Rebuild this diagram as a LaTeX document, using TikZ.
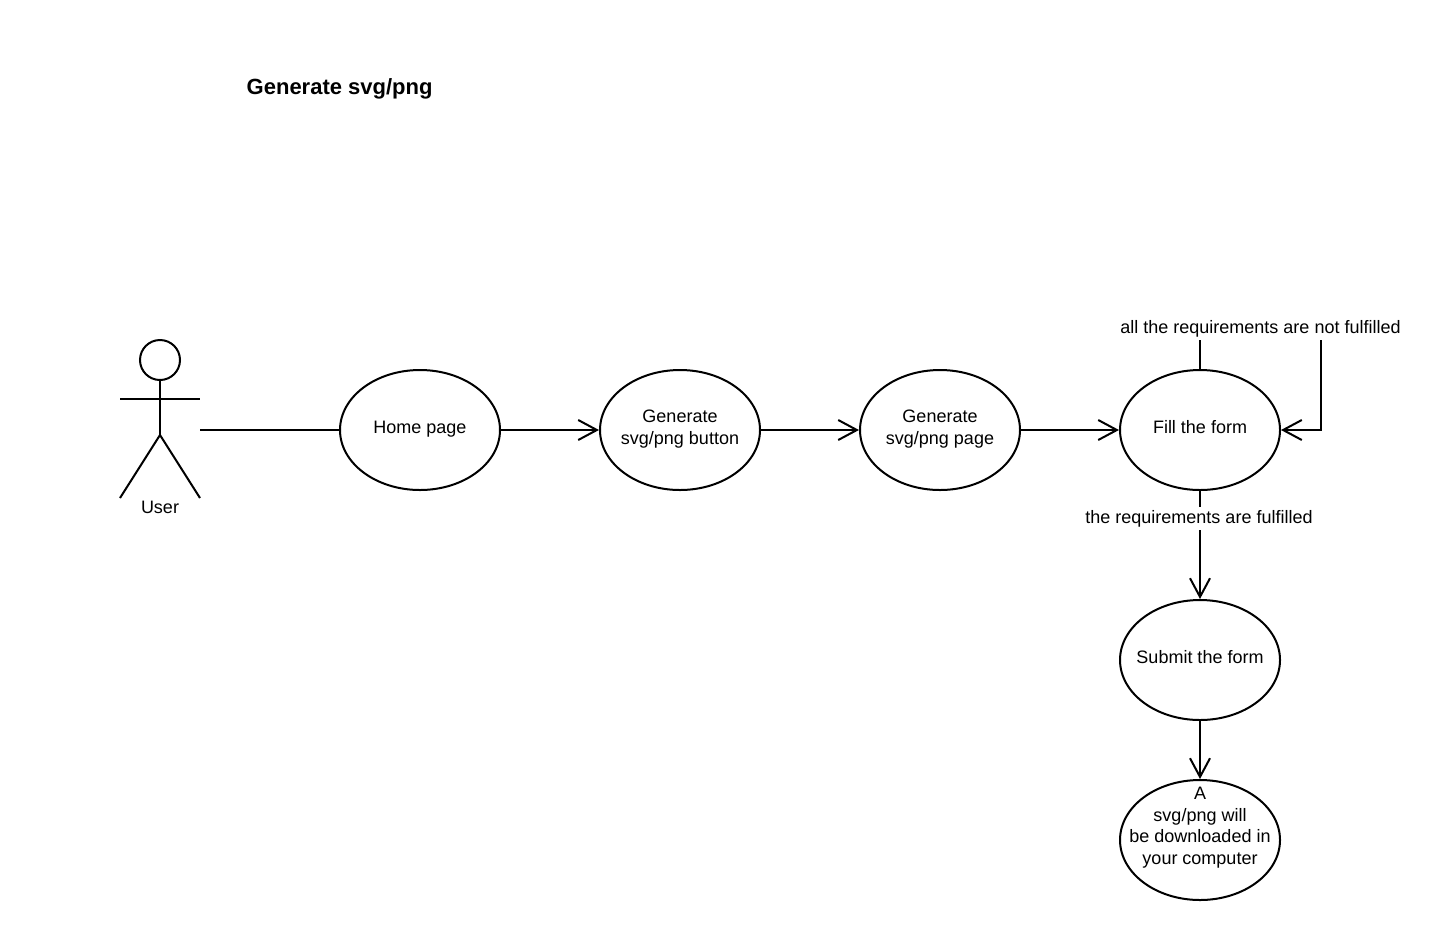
\documentclass[tikz,border=0pt]{standalone}
\usepackage{fontspec}
\setmainfont{Liberation Sans}
\usetikzlibrary{arrows.meta,shapes.geometric}

\tikzset{
    usecase/.style={draw,ellipse,line width=1.5pt,minimum width=120pt,minimum height=90pt,inner xsep=-40pt,inner ysep=-25pt,align=center,font=\fontsize{13.5}{16.1}\selectfont},
    flow/.style={line width=1.5pt,-{Straight Barb[length=14pt,width=15pt,line width=1.5pt]}},
    plain/.style={line width=1.5pt},
    edgelabel/.style={fill=white,inner sep=0pt,minimum height=17.25pt,font=\fontsize{13.5}{16.1}\selectfont},
}

\begin{document}
\begin{tikzpicture}[x=0.75pt,y=-0.75pt]
    \useasboundingbox (0,0) rectangle (1441,940);

    \node[anchor=west,font=\bfseries\fontsize{16.5}{20}\selectfont] (title) at (242,89) {Generate svg/png};

    % the actor
    \node[draw,circle,line width=1.5pt,minimum size=30pt,inner sep=0pt] (head) at (160,360) {};
    \coordinate (hip) at (160,435);
    \coordinate (armleft) at (120,399);
    \coordinate (armright) at (200,399);
    \coordinate (footleft) at (120,498);
    \coordinate (footright) at (200,498);
    \coordinate (hand) at (200,430);
    \draw[plain] (head.south) -- (hip);
    \draw[plain] (armleft) -- (armright);
    \draw[plain] (footleft) -- (hip) -- (footright);
    \node[font=\fontsize{13.5}{16.1}\selectfont] (user) at (160,507) {User};

    \node[usecase] (home) at (420,430) {Home page\\[-11.6pt]};
    \node[usecase] (button) at (680,430) {Generate\\svg/png button\\[-11.6pt]};
    \node[usecase] (page) at (940,430) {Generate\\svg/png page\\[-11.6pt]};
    \node[usecase] (fill) at (1200,430) {Fill the form\\[-11.6pt]};
    \node[usecase] (submit) at (1200,660) {Submit the form\\[-11.6pt]};
    \node[usecase] (download) at (1200,840) {A\\svg/png will\\be downloaded in\\your computer\\[5pt]};

    \draw[plain] (hand) -- (home.west);
    \draw[flow] (home) -- (button);
    \draw[flow] (button) -- (page);
    \draw[flow] (page) -- (fill);
    \draw[flow] (submit) -- (download);

    % loop back, its top is hidden by the label
    \coordinate (loop) at (1321,328);
    \draw[flow] (fill.north) |- (loop) |- (fill.east);
    \node[edgelabel] (notok) at (1260.5,328.5) {all the requirements are not fulfilled};

    \draw[flow] (fill) -- (submit);
    \node[edgelabel] (ok) at (1199,518.5) {the requirements are fulfilled};
\end{tikzpicture}
\end{document}
